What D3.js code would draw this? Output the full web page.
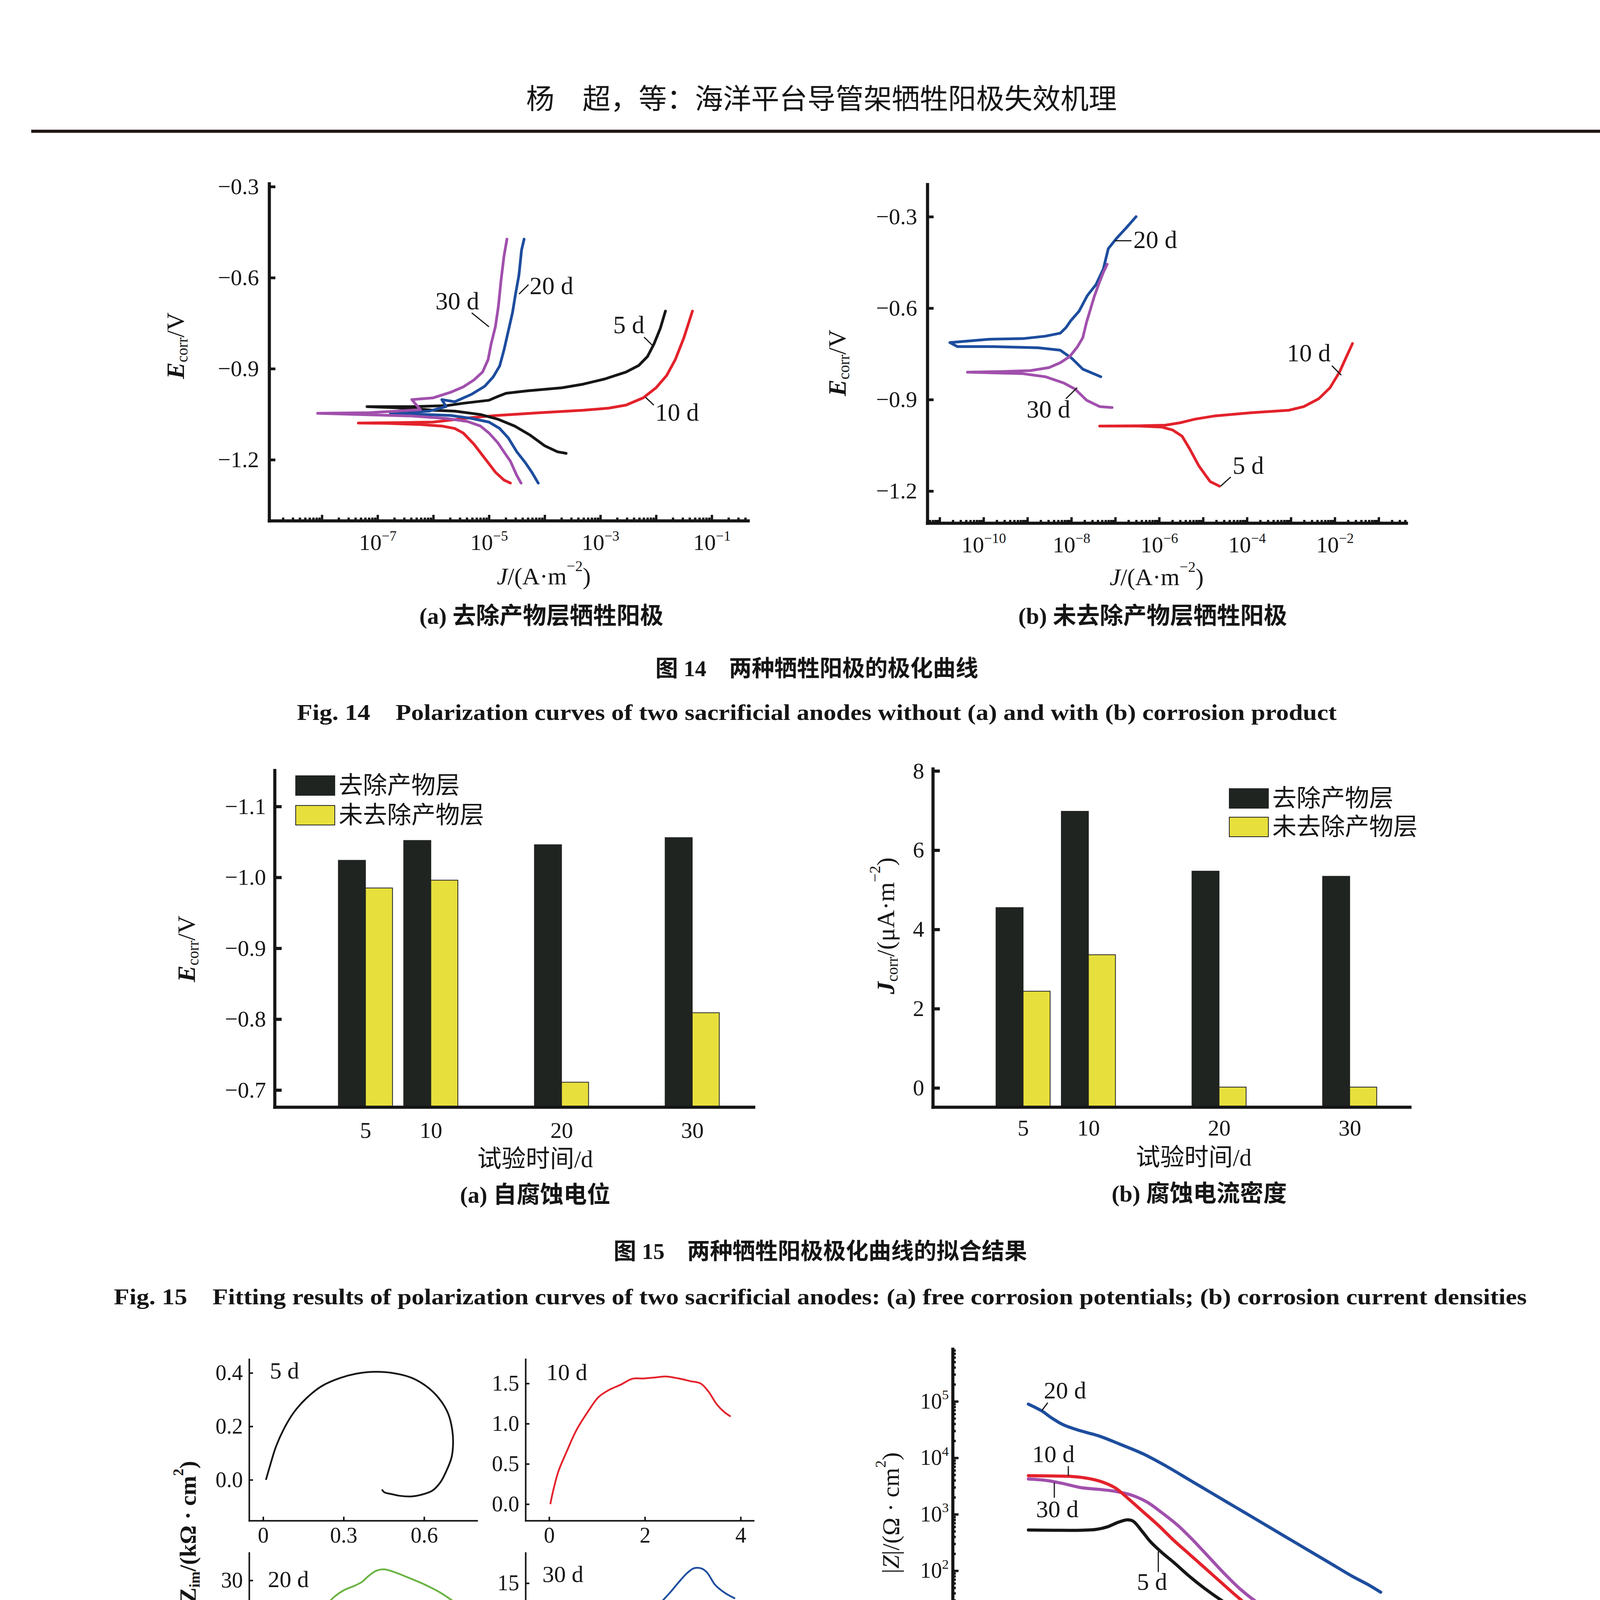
<!DOCTYPE html>
<html>
<head>
<meta charset="utf-8">
<script src="https://cdn.jsdelivr.net/npm/d3@7"></script>
<style>
  html, body { margin: 0; background: #fff; }
</style>
</head>
<body>
<svg id="page"></svg>
<script>
// ---- data ----

// Fig.14 polarization curves, points are [log10 J (A/m2), E (V)]
const pol14a_5d = [[-3.615,-1.179],[-3.769,-1.174],[-4.0,-1.154],[-4.269,-1.118],[-4.538,-1.089],[-4.846,-1.066],[-5.154,-1.051],[-5.615,-1.040],[-6.0,-1.037],[-6.385,-1.031],[-7.19,-1.025],[-6.385,-1.025],[-5.769,-1.022],[-5.462,-1.014],[-5.0,-1.004],[-4.846,-0.992],[-4.692,-0.981],[-4.308,-0.973],[-3.692,-0.963],[-3.308,-0.951],[-2.923,-0.934],[-2.538,-0.911],[-2.308,-0.889],[-2.154,-0.860],[-2.038,-0.819],[-1.923,-0.767],[-1.831,-0.710]];
const pol14a_10d = [[-4.615,-1.277],[-4.731,-1.267],[-4.885,-1.241],[-5.077,-1.195],[-5.269,-1.149],[-5.462,-1.112],[-5.615,-1.097],[-5.846,-1.089],[-6.231,-1.084],[-6.846,-1.080],[-7.346,-1.079],[-6.692,-1.078],[-6.0,-1.076],[-5.615,-1.068],[-5.308,-1.061],[-4.846,-1.054],[-4.077,-1.045],[-3.308,-1.037],[-2.846,-1.030],[-2.538,-1.020],[-2.231,-0.996],[-2.0,-0.963],[-1.808,-0.922],[-1.654,-0.870],[-1.5,-0.798],[-1.346,-0.710]];
const pol14a_20d = [[-4.115,-1.277],[-4.231,-1.241],[-4.346,-1.210],[-4.5,-1.174],[-4.654,-1.128],[-4.808,-1.097],[-5.0,-1.076],[-5.308,-1.064],[-5.692,-1.054],[-6.769,-1.047],[-6.077,-1.040],[-5.769,-1.025],[-5.846,-1.002],[-5.615,-1.009],[-5.308,-0.984],[-5.077,-0.958],[-4.923,-0.927],[-4.808,-0.891],[-4.731,-0.839],[-4.654,-0.777],[-4.577,-0.715],[-4.523,-0.654],[-4.462,-0.592],[-4.415,-0.509],[-4.369,-0.473]];
const pol14a_30d = [[-4.423,-1.277],[-4.5,-1.252],[-4.615,-1.205],[-4.731,-1.174],[-4.846,-1.143],[-5.0,-1.112],[-5.154,-1.089],[-5.385,-1.074],[-5.769,-1.064],[-6.385,-1.056],[-7.308,-1.051],[-8.077,-1.047],[-7.154,-1.045],[-6.231,-1.035],[-6.385,-1.002],[-6.0,-0.996],[-5.692,-0.978],[-5.462,-0.960],[-5.269,-0.937],[-5.115,-0.911],[-5.015,-0.870],[-4.962,-0.819],[-4.885,-0.762],[-4.831,-0.695],[-4.785,-0.612],[-4.731,-0.530],[-4.677,-0.473]];
const pol14b_20d = [[-7.329,-0.825],[-7.739,-0.800],[-7.995,-0.764],[-8.251,-0.738],[-8.763,-0.730],[-9.872,-0.726],[-10.597,-0.726],[-10.768,-0.713],[-9.872,-0.702],[-9.104,-0.700],[-8.592,-0.692],[-8.251,-0.682],[-8.123,-0.664],[-8.012,-0.641],[-7.824,-0.610],[-7.637,-0.559],[-7.440,-0.523],[-7.270,-0.471],[-7.159,-0.405],[-6.971,-0.371],[-6.758,-0.338],[-6.527,-0.300]];
const pol14b_30d = [[-7.073,-0.926],[-7.355,-0.923],[-7.654,-0.902],[-7.910,-0.866],[-8.166,-0.846],[-8.592,-0.825],[-9.104,-0.815],[-10.367,-0.810],[-9.616,-0.808],[-8.933,-0.805],[-8.507,-0.795],[-8.251,-0.779],[-8.038,-0.759],[-7.867,-0.728],[-7.739,-0.697],[-7.654,-0.646],[-7.568,-0.605],[-7.483,-0.564],[-7.381,-0.523],[-7.270,-0.482],[-7.184,-0.456]];
const pol14b_red = [[-4.625,-1.184],[-4.838,-1.169],[-5.094,-1.118],[-5.307,-1.061],[-5.478,-1.020],[-5.691,-1.000],[-5.947,-0.990],[-6.459,-0.987],[-7.355,-0.987],[-6.459,-0.986],[-5.862,-0.984],[-5.520,-0.976],[-5.179,-0.964],[-4.753,-0.954],[-3.899,-0.943],[-3.046,-0.935],[-2.705,-0.923],[-2.363,-0.897],[-2.108,-0.861],[-1.894,-0.810],[-1.749,-0.764],[-1.596,-0.716]];

// Fig.15 fitted results
const days = [5, 10, 20, 30];
const ecorrRemoved = [-1.024, -1.052, -1.046, -1.056];
const ecorrKept = [-0.985, -0.996, -0.711, -0.809];
const jcorrRemoved = [4.55, 6.98, 5.47, 5.34];
const jcorrKept = [2.44, 3.36, 0.02, 0.02];
const legendNames = ["去除产物层", "未去除产物层"];

// Fig.16 Nyquist, points are [Zre, Zim] in kΩ·cm2
const nyqA_5d = [[0.0105,0],[0.0254,0.0516],[0.0478,0.124],[0.0776,0.191],[0.115,0.253],[0.160,0.304],[0.219,0.351],[0.287,0.381],[0.346,0.397],[0.406,0.404],[0.481,0.400],[0.555,0.381],[0.615,0.345],[0.660,0.299],[0.690,0.247],[0.705,0.186],[0.708,0.134],[0.702,0.0825],[0.682,0.031],[0.660,-0.0103],[0.630,-0.041],[0.585,-0.057],[0.555,-0.062],[0.511,-0.060],[0.481,-0.054],[0.451,-0.046],[0.443,-0.036]];
const nyqA_10d = [[0.025,0],[0.084,0.164],[0.192,0.404],[0.360,0.644],[0.569,0.918],[0.820,1.158],[1.029,1.329],[1.238,1.415],[1.490,1.483],[1.741,1.558],[1.992,1.562],[2.243,1.576],[2.452,1.586],[2.703,1.562],[2.954,1.528],[3.163,1.500],[3.331,1.397],[3.498,1.243],[3.665,1.141],[3.791,1.089]];
const nyqA_20d = [[0,0],[2.1,4.21],[4.39,7.84],[6.67,10.75],[9.65,12.93],[12.28,15.11],[14.91,17.65],[17.54,19.83],[20.17,21.65],[23.68,23.46],[27.19,25.64],[31.58,27.46],[35.96,28.55],[39.47,29.64],[42.1,31.09],[45.6,32.54],[49.1,32.91],[53.5,32.18],[59.6,30.73],[66.7,28.91],[73.7,26.73],[81.6,23.46]];
const nyqA_30d = [[0,0],[0.75,0.97],[1.65,2.05],[2.85,3.12],[4.12,3.91],[4.87,4.56],[6.75,5.28],[9.0,6.17],[10.5,6.71],[12.0,7.14],[13.49,7.97],[14.99,9.04],[16.49,9.94],[18.74,11.2],[20.24,12.45],[22.11,13.89],[23.61,15.15],[25.11,16.29],[26.39,16.94],[27.74,16.94],[28.86,16.4],[30.36,14.79],[32.23,13.71],[34.11,12.99]];
const nyqC_5d = [[0.016,0],[0.079,0.171],[0.175,0.428],[0.294,0.685],[0.413,0.857],[0.571,1.071],[0.770,1.285],[1.008,1.478],[1.286,1.670],[1.524,1.799],[1.841,1.872],[2.079,1.919],[2.317,1.940],[2.556,1.919],[2.794,1.842],[3.032,1.692],[3.230,1.478],[3.389,1.199],[3.468,0.942],[3.492,0.642],[3.452,0.428],[3.365,0.193]];
const nyqC_10d = [[0,0],[0.087,0.240],[0.184,0.519],[0.311,0.853],[0.476,1.104],[0.670,1.355],[0.864,1.550],[1.155,1.757],[1.398,1.969],[1.689,2.164],[2.078,2.315],[2.466,2.415],[2.757,2.482],[3.049,2.527],[3.340,2.487],[3.631,2.415],[4.019,2.276],[4.388,2.125]];
const nyqC_20d = [[-1.3,-7.2],[0,0],[4.0,7.2],[11.9,14.5],[18.5,19.9],[28.3,30.8],[38.2,41.6],[48.1,50.7],[54.7,56.1],[59.3,59.7],[65.9,61.5],[74.5,68.8],[87.7,77.8],[104.2,88.7],[123.9,100.3],[143.7,110.4],[163.5,119.5],[183.3,126.7],[196.4,132.1],[216.2,141.2],[236.0,148.4],[255.8,156.7],[275.5,160.0],[288.7,158.2],[299.9,155.7]];
const nyqC_30d = [[-1.23,-0.22],[0.74,0.90],[2.46,2.35],[3.69,3.69],[7.39,8.17],[11.08,12.64],[16.01,18.24],[22.17,23.83],[28.32,28.31],[35.71,33.35],[43.10,37.26],[50.49,40.62],[60.34,43.98],[70.20,46.77],[77.58,48.45],[84.97,49.01],[92.36,50.13],[99.75,51.81],[104.68,52.37],[109.1,50.13]];
const nyq20dTickText = ["0", "400", "800", "120", "160"];

// Fig.16 Bode, points are [log10 f (Hz), log10 |Z| (Ω·cm2)]
const bodeB_20d = [[-1.995,4.951],[-1.725,4.829],[-1.532,4.707],[-1.300,4.585],[-1.029,4.498],[-0.566,4.380],[-0.179,4.244],[0.284,4.073],[0.748,3.854],[1.212,3.610],[1.675,3.366],[2.139,3.122],[2.603,2.878],[3.066,2.634],[3.530,2.390],[3.994,2.146],[4.457,1.902],[4.767,1.756],[5.022,1.620]];
const bodeB_10d = [[-1.995,3.683],[-1.493,3.678],[-1.107,3.668],[-0.798,3.634],[-0.488,3.561],[-0.257,3.463],[-0.025,3.293],[0.284,3.049],[0.593,2.805],[0.903,2.537],[1.212,2.293],[1.521,2.049],[1.830,1.805],[2.139,1.561],[2.448,1.341],[2.757,1.195],[3.144,1.107],[3.530,1.083],[4.303,1.073],[5.022,1.073]];
const bodeB_30d = [[-1.995,3.624],[-1.648,3.600],[-1.338,3.551],[-0.952,3.473],[-0.566,3.439],[-0.257,3.405],[0.053,3.341],[0.362,3.220],[0.671,3.024],[0.980,2.805],[1.289,2.537],[1.598,2.244],[1.907,1.951],[2.216,1.683],[2.526,1.463],[2.835,1.293],[3.221,1.195],[3.685,1.156],[4.303,1.141],[5.022,1.137]];
const bodeB_5d = [[-1.995,2.722],[-1.493,2.717],[-0.952,2.717],[-0.643,2.732],[-0.411,2.780],[-0.218,2.854],[-0.025,2.902],[0.091,2.878],[0.284,2.683],[0.439,2.512],[0.671,2.317],[0.903,2.146],[1.212,1.902],[1.521,1.683],[1.830,1.488],[2.139,1.317],[2.448,1.180],[2.757,1.107],[3.221,1.059],[3.917,1.039],[5.022,1.034]];
const bodeD_20d = [[-1.995,6.062],[-1.570,6.0],[-1.107,5.906],[-0.643,5.792],[-0.179,5.652],[0.284,5.506],[0.748,5.350],[1.134,5.205],[1.521,5.023],[1.830,4.857],[2.139,4.649],[2.448,4.467],[2.719,4.352],[2.989,4.290],[3.376,4.269],[3.917,4.259],[4.457,4.248],[5.022,4.233]];
const bodeD_30d = [[-1.895,5.444],[-1.493,5.392],[-1.107,5.324],[-0.643,5.205],[-0.179,5.064],[0.284,4.883],[0.748,4.701],[1.212,4.519],[1.675,4.311],[2.139,4.093],[2.603,3.869],[3.066,3.646],[3.530,3.427],[3.917,3.193],[4.303,2.933],[4.689,2.674],[5.022,2.450]];
const bodeD_5d = [[-1.995,3.313],[-1.493,3.313],[-1.184,3.323],[-0.952,3.349],[-0.720,3.427],[-0.488,3.531],[-0.295,3.635],[-0.195,3.646],[-0.063,3.583],[0.130,3.427],[0.362,3.219],[0.593,3.011],[0.903,2.778],[1.212,2.544],[1.521,2.284],[1.830,2.050],[2.139,1.816],[2.448,1.582],[2.757,1.348],[3.066,1.192],[3.376,1.099],[3.839,1.036],[4.303,1.010],[5.022,0.984]];
const bodeD_10d = [[-1.995,3.386],[-1.493,3.323],[-1.107,3.261],[-0.643,3.157],[-0.179,3.022],[0.284,2.845],[0.593,2.700],[0.903,2.518],[1.212,2.310],[1.521,2.076],[1.753,1.816],[1.985,1.556],[2.216,1.322],[2.448,1.192],[2.757,1.130],[3.221,1.099],[3.917,1.062],[4.457,1.026],[5.022,0.984]];

// ---- page ----
const W = 4180, H = 6340;
const SERIF = "'Liberation Serif','Noto Sans CJK SC',serif";
const INK = "#151515";
const C = { black: "#161616", red: "#e3222b", blue: "#1d4d9e", purple: "#a150ad", green: "#6ab342", bar: "#1f2420", yellow: "#e7e03c" };

const svg = d3.select("#page").attr("width", W).attr("height", H)
  .attr("font-family", SERIF).attr("fill", INK);
svg.append("rect").attr("width", W).attr("height", H).attr("fill", "#fff");

// text with italic / sub / sup pieces
function rich(g, x, y, size, parts) {
  const t = g.append("text").attr("x", x).attr("y", y).attr("font-size", size).attr("fill", INK);
  let shift = 0;
  parts.forEach(p => {
    const [s, st] = Array.isArray(p) ? p : [p, ""];
    const f = st.split(" ");
    let target = 0, fs = size;
    if (f.includes("sub")) { target = size * 0.28; fs = size * 0.62; }
    if (f.includes("sup")) { target = -size * 0.42; fs = size * 0.62; }
    const ts = t.append("tspan").attr("font-size", fs).attr("dy", target - shift).text(s);
    shift = target;
    if (f.includes("i")) ts.attr("font-style", "italic");
    if (f.includes("b")) ts.attr("font-weight", "bold");
  });
  return t;
}
function centered(g, x, y, size, parts) {
  return rich(g, x, y, size, parts).attr("text-anchor", "middle").attr("dominant-baseline", "central");
}
function yTitle(g, x, y, size, parts) {
  return centered(g, x, y, size, parts).attr("transform", `rotate(-90,${x},${y})`);
}

function linAxis(g, scale, side, pos, o) {
  const mk = side === "bottom" ? d3.axisBottom : d3.axisLeft;
  const a = g.append("g")
    .attr("transform", side === "bottom" ? `translate(0,${pos})` : `translate(${pos},0)`)
    .call(mk(scale).tickValues(o.values).tickSize(-o.len).tickSizeOuter(0).tickPadding(o.pad).tickFormat(o.fmt))
    .attr("font-family", SERIF).attr("font-size", o.fs);
  a.select(".domain").attr("stroke", INK).attr("stroke-width", o.w).attr("stroke-linecap", "square");
  a.selectAll(".tick line").attr("stroke", INK).attr("stroke-width", o.tw);
  a.selectAll(".tick text").attr("fill", INK).filter(function () { return !this.textContent; }).remove();
  return a;
}

function decades(scale) {
  const [a, b] = scale.domain(), maj = [], min = [];
  for (let n = Math.floor(Math.log10(a)); n <= Math.ceil(Math.log10(b)); n++)
    for (let k = 1; k < 10; k++) {
      const v = k * Math.pow(10, n);
      if (v >= a && v <= b) (k === 1 ? maj : min).push(v);
    }
  return { maj, min };
}

// log axis: dotted minor ticks, taller decade ticks, 10^n labels
function logAxis(g, scale, side, pos, o) {
  const mk = side === "bottom" ? d3.axisBottom : d3.axisLeft;
  const tr = side === "bottom" ? `translate(0,${pos})` : `translate(${pos},0)`;
  const t = decades(scale);
  const m = g.append("g").attr("transform", tr)
    .call(mk(scale).tickValues(t.min).tickSize(-o.minLen).tickSizeOuter(0).tickFormat(""));
  m.select(".domain").remove();
  m.selectAll(".tick text").remove();
  m.selectAll(".tick line").attr("stroke", INK).attr("stroke-width", o.tw);
  const a = g.append("g").attr("transform", tr)
    .call(mk(scale).tickValues(t.maj).tickSize(-o.majLen).tickSizeOuter(0).tickPadding(o.pad)
      .tickFormat(d => o.show(Math.round(Math.log10(d))) ? "10" : ""))
    .attr("font-family", SERIF).attr("font-size", o.fs);
  a.select(".domain").attr("stroke", INK).attr("stroke-width", o.w).attr("stroke-linecap", "square");
  a.selectAll(".tick line").attr("stroke", INK).attr("stroke-width", o.tw);
  a.selectAll(".tick text").attr("fill", INK).each(function (d) {
    const el = d3.select(this);
    if (!el.text()) { el.remove(); return; }
    const e = Math.round(Math.log10(d));
    el.append("tspan").attr("font-size", o.fs * 0.62).attr("dy", -o.fs * 0.42)
      .text(e < 0 ? "\u2212" + (-e) : String(e));
  });
}

function curveLabels(g, x, y, labels, size) {
  labels.forEach(l => {
    rich(g, x(l.at[0]), y(l.at[1]), size, [l.t]);
    g.append("line")
      .attr("x1", x(l.lead[0][0])).attr("y1", y(l.lead[0][1]))
      .attr("x2", x(l.lead[1][0])).attr("y2", y(l.lead[1][1]))
      .attr("stroke", INK).attr("stroke-width", 3);
  });
}

const pow10 = v => Math.pow(10, v);

// ---------- header ----------
centered(svg, 2103, 254, 72, ["杨　超，等：海洋平台导管架牺牲阳极失效机理"]);
svg.append("line").attr("x1", 80).attr("x2", 4118).attr("y1", 336).attr("y2", 336)
  .attr("stroke", "#231815").attr("stroke-width", 8);

// ---------- Fig.14 ----------
function polPanel(o) {
  const g = svg.append("g");
  const x = d3.scaleLog().domain(o.xd.map(pow10)).range(o.xr);
  const y = d3.scaleLinear().domain(o.yd).range(o.yr);
  const line = d3.line().x(d => x(pow10(d[0]))).y(d => y(d[1]));
  o.series.forEach(([pts, col]) => {
    g.append("path").datum(pts).attr("d", line).attr("fill", "none")
      .attr("stroke", col).attr("stroke-width", 7).attr("stroke-linejoin", "round").attr("stroke-linecap", "round");
  });
  logAxis(g, x, "bottom", o.yr[0], { w: 8, tw: 6, majLen: 15, minLen: 8, pad: 34, fs: 58, show: o.show });
  linAxis(g, y, "left", o.xr[0], { values: [-1.2, -0.9, -0.6, -0.3], fmt: d3.format(".1f"), len: 16, pad: 26, fs: 58, w: 8, tw: 7 });
  curveLabels(g, x, y, o.labels.map(l => ({ t: l.t, at: [pow10(l.at[0]), l.at[1]], lead: l.lead.map(p => [pow10(p[0]), p[1]]) })), 64);
  yTitle(g, o.yt[0], o.yt[1], 64, [["E", "i b"], ["corr", "sub"], "/V"]);
  centered(g, o.xt[0], o.xt[1], 62, [["J", "i"], "/(A·m", ["\u22122", "sup"], ")"]);
  centered(g, o.cap[0], o.cap[1], 60, [o.capText]).attr("font-weight", "bold");
}

polPanel({
  xr: [689, 1915], yr: [1333, 470], xd: [-8.947, -0.348], yd: [-1.401, -0.29],
  show: e => [-7, -5, -3, -1].includes(e),
  series: [[pol14a_10d, C.red], [pol14a_5d, C.black], [pol14a_20d, C.blue], [pol14a_30d, C.purple]],
  labels: [
    { t: "30 d", at: [-5.96, -0.705], lead: [[-5.31, -0.716], [-5.0, -0.762]] },
    { t: "20 d", at: [-4.27, -0.654], lead: [[-4.46, -0.654], [-4.29, -0.623]] },
    { t: "5 d", at: [-2.77, -0.783], lead: [[-2.215, -0.796], [-2.06, -0.824]] },
    { t: "10 d", at: [-2.015, -1.071], lead: [[-2.19, -0.994], [-2.04, -1.02]] }
  ],
  yt: [449, 885], xt: [1392, 1475], cap: [1386, 1577], capText: "(a) 去除产物层牺牲阳极"
});
polPanel({
  xr: [2374, 3600], yr: [1339, 472], xd: [-11.28, -0.372], yd: [-1.305, -0.194],
  show: e => [-10, -8, -6, -4, -2].includes(e),
  series: [[pol14b_red, C.red], [pol14b_20d, C.blue], [pol14b_30d, C.purple]],
  labels: [
    { t: "20 d", at: [-6.587, -0.403], lead: [[-7.014, -0.379], [-6.63, -0.379]] },
    { t: "30 d", at: [-9.019, -0.959], lead: [[-7.867, -0.861], [-8.123, -0.897]] },
    { t: "10 d", at: [-3.089, -0.774], lead: [[-2.065, -0.789], [-1.851, -0.820]] },
    { t: "5 d", at: [-4.326, -1.143], lead: [[-4.6, -1.184], [-4.37, -1.154]] }
  ],
  yt: [2143, 929], xt: [2961, 1477], cap: [2951, 1577], capText: "(b) 未去除产物层牺牲阳极"
});
centered(svg, 2091, 1711, 58, ["图 14　两种牺牲阳极的极化曲线"]).attr("font-weight", "bold");
centered(svg, 2091, 1824, 56, ["Fig. 14　Polarization curves of two sacrificial anodes without (a) and with (b) corrosion product"])
  .attr("font-weight", "bold").attr("textLength", 2662).attr("lengthAdjust", "spacingAndGlyphs");

// ---------- Fig.15 ----------
function barPanel(o) {
  const g = svg.append("g");
  const x = d3.scaleLinear().domain(o.xd).range(o.xr);
  const y = d3.scaleLinear().domain(o.yd).range(o.yr);
  const bw = 2.07;
  [[o.a, -bw, C.bar], [o.b, 0, C.yellow]].forEach(([vals, off, col]) => {
    g.selectAll(null).data(days).join("rect")
      .attr("x", d => x(d + off)).attr("width", x(bw) - x(0))
      .attr("y", (d, i) => y(vals[i])).attr("height", (d, i) => y(o.yd[0]) - y(vals[i]))
      .attr("fill", col).attr("stroke", "#222").attr("stroke-width", 2);
  });
  linAxis(g, x, "bottom", o.yr[0], { values: days, fmt: d3.format("d"), len: 0, pad: o.xpad, fs: 58, w: 8, tw: 0 });
  linAxis(g, y, "left", o.xr[0], { values: o.yv, fmt: o.yf, len: 18, pad: 22, fs: 58, w: 8, tw: 8 });
  o.legend.forEach((ly, i) => {
    g.append("rect").attr("x", o.lx).attr("y", ly).attr("width", 100).attr("height", 50)
      .attr("fill", i ? C.yellow : C.bar).attr("stroke", "#222").attr("stroke-width", 2);
    rich(g, o.lx + 110, ly + 25, 62, [legendNames[i]]).attr("dominant-baseline", "central");
  });
  centered(g, o.xt[0], o.xt[1], 62, ["试验时间/d"]);
  yTitle(g, o.yt[0], o.yt[1], 64, o.ytitle);
  centered(g, o.cap[0], o.cap[1], 60, [o.capText]).attr("font-weight", "bold");
}
barPanel({
  xd: [-1.95, 34.69], xr: [703, 1929], yd: [-0.676, -1.151], yr: [2834, 1972],
  a: ecorrRemoved, b: ecorrKept, yv: [-1.1, -1.0, -0.9, -0.8, -0.7], yf: d3.format(".1f"), xpad: 38,
  lx: 757, legend: [1986, 2062],
  xt: [1370, 2967], yt: [477, 2429], ytitle: [["E", "i b"], ["corr", "sub"], "/V"],
  cap: [1370, 3059], capText: "(a) 自腐蚀电位"
});
barPanel({
  xd: [-1.91, 34.6], xr: [2388, 3609], yd: [-0.483, 8.055], yr: [2834, 1968],
  a: jcorrRemoved, b: jcorrKept, yv: [0, 2, 4, 6, 8], yf: d3.format("d"), xpad: 32,
  lx: 3147, legend: [2019, 2092],
  xt: [3056, 2963], yt: [2267, 2370], ytitle: [["J", "i b"], ["corr", "sub"], "/(μA·m", ["\u22122", "sup"], ")"],
  cap: [3070, 3056], capText: "(b) 腐蚀电流密度"
});
centered(svg, 2100, 3203, 58, ["图 15　两种牺牲阳极极化曲线的拟合结果"]).attr("font-weight", "bold");
centered(svg, 2100, 3320, 56, ["Fig. 15　Fitting results of polarization curves of two sacrificial anodes: (a) free corrosion potentials; (b) corrosion current densities"])
  .attr("font-weight", "bold").attr("textLength", 3617).attr("lengthAdjust", "spacingAndGlyphs");

// ---------- Fig.16 Nyquist ----------
function nyqPanel(o) {
  const g = svg.append("g");
  const x = d3.scaleLinear().domain(o.xd).range(o.xr);
  const y = d3.scaleLinear().domain(o.yd).range(o.yr);
  g.append("path").datum(o.pts)
    .attr("d", d3.line().x(d => x(d[0])).y(d => y(d[1])).curve(d3.curveCatmullRom))
    .attr("fill", "none").attr("stroke", o.col).attr("stroke-width", 4.5).attr("stroke-linejoin", "round");
  linAxis(g, x, "bottom", o.yr[0], { values: o.xv, fmt: o.xf || d3.format("d"), len: 10, pad: 16, fs: 56, w: 4, tw: 4 });
  linAxis(g, y, "left", o.xr[0], { values: o.yv, fmt: o.yf || d3.format("d"), len: 10, pad: 16, fs: 56, w: 4, tw: 4 });
  rich(g, x(o.lab[0]), y(o.lab[1]), 60, [o.name]);
}
const f1 = d3.format(".1f");
const topY = [3479.6, 3892.8], botY = [3975.3, 4386.4];
const leftX = [637.7, 1221], rightX = [1345.3, 1928.9];
nyqPanel({ pts: nyqA_5d, col: C.black, name: "5 d", lab: [0.025, 0.379],
  xr: leftX, yr: [topY[1], topY[0]], xd: [-0.0522, 0.797], yd: [-0.1527, 0.4513],
  xv: [0, 0.3, 0.6], xf: d => d === 0 ? "0" : f1(d), yv: [0, 0.2, 0.4], yf: f1 });
nyqPanel({ pts: nyqA_10d, col: C.red, name: "10 d", lab: [-0.059, 1.541],
  xr: rightX, yr: [topY[1], topY[0]], xd: [-0.493, 4.268], yd: [-0.205, 1.801],
  xv: [0, 2, 4], yv: [0, 0.5, 1.0, 1.5], yf: f1 });
nyqPanel({ pts: nyqA_20d, col: C.green, name: "20 d", lab: [-1.75, 28.2],
  xr: leftX, yr: [botY[1], botY[0]], xd: [-9.97, 89.6], yd: [-5.09, 37.26],
  xv: [0, 40, 80], yv: [0, 10, 20, 30] });
nyqPanel({ pts: nyqA_30d, col: C.blue, name: "30 d", lab: [-1.87, 15.15],
  xr: [1345.3, 1962.8], yr: [botY[1], botY[0]], xd: [-5.01, 40], yd: [-2.02, 18.96],
  xv: [0, 10, 20, 30, 40], yv: [0, 5, 10, 15] });
yTitle(svg, 481, 3922, 60, [["Z", "b"], ["im", "sub b"], ["/(kΩ · cm", "b"], ["2", "sup b"], [")", "b"]]);
centered(svg, 1332, 4490, 60, ["Z", ["re", "sub"], "/(kΩ · cm", ["2", "sup"], ")"]);
centered(svg, 1266, 4585, 60, ["(a) 去除产物层牺牲阳极Nyquist图"]).attr("font-weight", "bold");

const topY2 = [4681.7, 5092.8], botY2 = [5175.3, 5586.4];
nyqPanel({ pts: nyqC_5d, col: C.black, name: "5 d", lab: [-0.183, 1.961],
  xr: [640.8, 1224.3], yr: [topY2[1], topY2[0]], xd: [-0.5, 4.055], yd: [-0.248, 2.25],
  xv: [0, 2, 4], yv: [0, 1, 2] });
nyqPanel({ pts: nyqC_10d, col: C.red, name: "10 d", lab: [-0.058, 2.593],
  xr: rightX, yr: [topY2[1], topY2[0]], xd: [-0.518, 4.99], yd: [-0.25, 3.0],
  xv: [0, 2, 4], yv: [0, 1, 2, 3] });
nyqPanel({ pts: nyqC_20d, col: C.green, name: "20 d", lab: [-17.8, 135],
  xr: [640.8, 1224.3], yr: [botY2[1], 5178.8], xd: [-50.1, 325], yd: [-30.1, 179.2],
  xv: [0, 100, 200, 300], yv: [0, 40, 80, 120, 160], yf: d => nyq20dTickText[d / 40] });
nyqPanel({ pts: nyqC_30d, col: C.blue, name: "30 d", lab: [-10.6, 48.5],
  xr: rightX, yr: [botY2[1], botY2[0]], xd: [-20.1, 119.6], yd: [-5.06, 60.33],
  xv: [0, 50, 100], yv: [0, 15, 30, 45, 60], yf: d => d % 30 === 0 ? String(d) : "" });
yTitle(svg, 481, 5073, 60, [["Z", "b"], ["im", "sub b"], ["/(kΩ · cm", "b"], ["2", "sup b"], [")", "b"]]);
centered(svg, 1291, 5700, 60, ["Z", ["re", "sub"], "/(kΩ · cm", ["2", "sup"], ")"]);
centered(svg, 1250, 5788, 60, ["(c) 未去除产物层牺牲阳极Nyquist图"]).attr("font-weight", "bold");

// ---------- Fig.16 Bode ----------
function bodePanel(o) {
  const g = svg.append("g");
  const x = d3.scaleLog().domain(o.xd.map(pow10)).range(o.xr);
  const y = d3.scaleLog().domain(o.yd.map(pow10)).range(o.yr);
  const line = d3.line().x(d => x(pow10(d[0]))).y(d => y(pow10(d[1]))).curve(d3.curveCatmullRom);
  o.series.forEach(([pts, col]) => {
    g.append("path").datum(pts).attr("d", line).attr("fill", "none")
      .attr("stroke", col).attr("stroke-width", 8).attr("stroke-linecap", "round");
  });
  logAxis(g, x, "bottom", o.yr[0], { w: 8, tw: 6, majLen: 15, minLen: 8, pad: 28, fs: 56, show: () => true });
  logAxis(g, y, "left", o.xr[0], { w: 8, tw: 6, majLen: 15, minLen: 8, pad: 10, fs: 56, show: e => e >= 1 && e <= o.ymax });
  curveLabels(g, x, y, o.labels.map(l => ({ t: l.t, at: l.at.map(pow10), lead: l.lead.map(p => p.map(pow10)) })), 62);
  yTitle(g, 2280, o.ytc, 62, ["|", ["Z", "i"], "|/(Ω · cm", ["2", "sup"], ")"]);
  centered(g, o.ftc[0], o.ftc[1], 62, [["f", "i"], "/Hz"]);
  centered(g, o.cap[0], o.cap[1], 60, [o.capText]).attr("font-weight", "bold");
}
bodePanel({
  xr: [2438.8, 3641], yr: [4303.2, 3453.5], xd: [-3.503, 5.851], yd: [0.048, 5.927], ymax: 5,
  series: [[bodeB_20d, C.blue], [bodeB_30d, C.purple], [bodeB_10d, C.red], [bodeB_5d, C.black]],
  labels: [
    { t: "20 d", at: [-1.686, 5.049], lead: [[-1.725, 4.839], [-1.609, 4.976]] },
    { t: "10 d", at: [-1.918, 3.927], lead: [[-1.199, 3.854], [-1.199, 3.683]] },
    { t: "30 d", at: [-1.841, 2.951], lead: [[-1.478, 3.561], [-1.478, 3.293]] },
    { t: "5 d", at: [0.168, 1.659], lead: [[0.593, 2.341], [0.593, 1.976]] }
  ],
  ytc: 3873, ftc: [3020, 4430], cap: [3005, 4585], capText: "(b) 去除产物层牺牲阳极Bode图"
});
bodePanel({
  xr: [2438.8, 3641], yr: [5503.2, 4653.5], xd: [-3.503, 5.851], yd: [0.464, 6.727], ymax: 6,
  series: [[bodeD_20d, C.blue], [bodeD_30d, C.purple], [bodeD_5d, C.black], [bodeD_10d, C.red]],
  labels: [
    { t: "20 d", at: [-0.913, 6.068], lead: [[-0.759, 5.828], [-0.604, 5.984]] },
    { t: "30 d", at: [-1.223, 4.581], lead: [[-0.566, 5.168], [-0.798, 4.96]] },
    { t: "5 d", at: [0.416, 3.401], lead: [[0.346, 3.219], [0.478, 3.365]] },
    { t: "10 d", at: [-0.334, 2.050], lead: [[0.362, 2.648], [0.091, 2.414]] }
  ],
  ytc: 5073, ftc: [3025, 5630], cap: [3012, 5788], capText: "(d) 未去除产物层牺牲阳极Bode图"
});
centered(svg, 2097, 5920, 58, ["图 16　两种牺牲阳极的电化学阻抗谱"]).attr("font-weight", "bold");
centered(svg, 2102, 6036, 56, ["Fig. 16　Nyquist plots and Bode plots of two sacrificial anodes without (a, b) and with (c, d) corrosion product"])
  .attr("font-weight", "bold").attr("textLength", 3120).attr("lengthAdjust", "spacingAndGlyphs");

// ---------- page number ----------
centered(svg, 270, 6218, 62, ["•　116　•"]);
</script>
</body>
</html>
